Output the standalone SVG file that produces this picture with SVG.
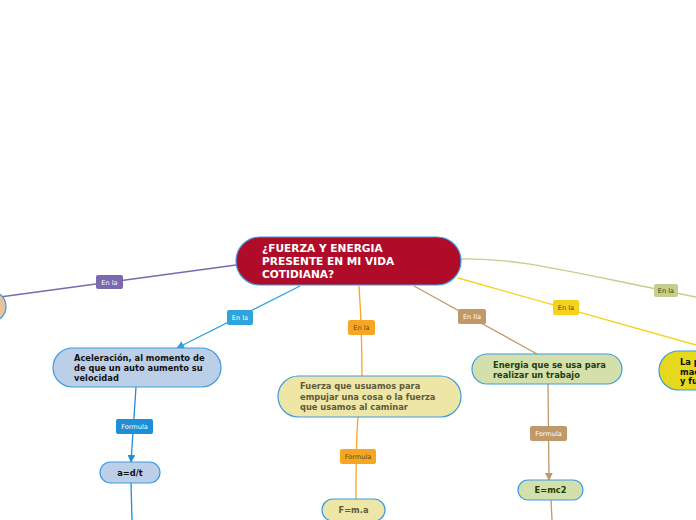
<svg xmlns="http://www.w3.org/2000/svg" width="696" height="520" viewBox="0 0 696 520">
<defs>
<style>
.n{stroke:#3d9be0;stroke-width:1.2}
.t{font-family:"DejaVu Sans",Verdana,sans-serif;font-weight:bold;font-size:8.3px}
.c{fill:none;stroke-width:1.3}
.lb{font-family:"DejaVu Sans",Verdana,sans-serif;font-size:6.6px;text-anchor:middle}
</style>
<marker id="ab" viewBox="0 0 10 10" refX="9" refY="5" markerWidth="6" markerHeight="6" orient="auto"><path d="M0,0 L10,5 L0,10 z" fill="#2ea3dc"/></marker>
<marker id="ab2" viewBox="0 0 10 10" refX="9" refY="5" markerWidth="6" markerHeight="6" orient="auto"><path d="M0,0 L10,5 L0,10 z" fill="#1e8fd6"/></marker>
<marker id="abr" viewBox="0 0 10 10" refX="9" refY="5" markerWidth="6" markerHeight="6" orient="auto"><path d="M0,0 L10,5 L0,10 z" fill="#c0996a"/></marker>
</defs>
<rect width="696" height="520" fill="#ffffff"/>
<g id="connectors">
<path class="c" d="M236,265 L0,297" stroke="#7b68ae"/>
<path class="c" d="M300,286 L177,348" stroke="#2ea3dc" marker-end="url(#ab)"/>
<path class="c" d="M136,387 L131,462" stroke="#1e8fd6" marker-end="url(#ab2)"/>
<path class="c" d="M131,483 L132,520" stroke="#1e8fd6"/>
<path class="c" d="M359,286 Q362,330 362,376" stroke="#f6a623"/>
<path class="c" d="M358,417 Q356,440 356,499" stroke="#f6a623"/>
<path class="c" d="M414,286 L537,354" stroke="#c0996a"/>
<path class="c" d="M548,384 L549,480" stroke="#c0996a" marker-end="url(#abr)"/>
<path class="c" d="M551,500 L552,520" stroke="#c0996a"/>
<path class="c" d="M458,278 L696,345" stroke="#f5d31a"/>
<path class="c" d="M461,259 C520,258 560,270 696,297" stroke="#c3cf8a"/>
<g id="labels">
<rect x="96" y="275" width="27" height="14" rx="2" fill="#7b68ae"/><text class="lb" x="109.5" y="284.5" fill="#ffffff">En la</text>
<rect x="227" y="310" width="26" height="15" rx="2" fill="#2ea3dc"/><text class="lb" x="240" y="320" fill="#ffffff">En la</text>
<rect x="116" y="419" width="37" height="15" rx="2" fill="#1e8fd6"/><text class="lb" x="134.5" y="429" fill="#ffffff">Formula</text>
<rect x="348" y="320" width="27" height="15" rx="2" fill="#f6a623"/><text class="lb" x="361.5" y="330" fill="#5e4a20">En la</text>
<rect x="340" y="449" width="36" height="15" rx="2" fill="#f6a623"/><text class="lb" x="358" y="459" fill="#5e4a20">Formula</text>
<rect x="458" y="309" width="28" height="15" rx="2" fill="#c0996a"/><text class="lb" x="472" y="319" fill="#ffffff">En lla</text>
<rect x="530" y="426" width="37" height="15" rx="2" fill="#c0996a"/><text class="lb" x="548.5" y="436" fill="#ffffff">Formula</text>
<rect x="553" y="300" width="26" height="15" rx="2" fill="#f5d31a"/><text class="lb" x="566" y="310" fill="#4a4020">En la</text>
<rect x="654" y="284" width="24" height="13" rx="2" fill="#c3cf8a"/><text class="lb" x="666" y="293" fill="#3a3a20">En la</text>
</g>
</g>
<g id="central">
<rect class="n" x="236" y="237" width="225" height="48" rx="24" fill="#b10b2a"/>
<text class="t" fill="#ffffff" style="font-size:10.6px"><tspan x="262" y="252">¿FUERZA Y ENERGIA</tspan><tspan x="262" y="265">PRESENTE EN MI VIDA</tspan><tspan x="262" y="278">COTIDIANA?</tspan></text>
</g>
<g id="left-node">
<rect class="n" x="-40" y="291" width="46" height="31" rx="15.5" fill="#e8c39e"/>
</g>
<g id="aceleracion">
<rect class="n" x="53" y="348" width="168" height="39" rx="19.5" fill="#bccfe8"/>
<text class="t" fill="#111111"><tspan x="74" y="361">Aceleración, al momento de</tspan><tspan x="74" y="371">de que un auto aumento su</tspan><tspan x="74" y="380.5">velocidad</tspan></text>
</g>
<g id="adt">
<rect class="n" x="100" y="462" width="60" height="21" rx="10.5" fill="#bccfe8"/>
<text class="t" x="130" y="475.5" text-anchor="middle" fill="#111111">a=d/t</text>
</g>
<g id="fuerza">
<rect class="n" x="278" y="376" width="183" height="41" rx="20.5" fill="#ede6a6"/>
<text class="t" fill="#5e5a3a"><tspan x="300" y="389">Fuerza que usuamos para</tspan><tspan x="300" y="399.5">empujar una cosa o la fuerza</tspan><tspan x="300" y="410">que usamos al caminar</tspan></text>
</g>
<g id="fma">
<rect class="n" x="322" y="499" width="63" height="22" rx="11" fill="#ede6a6"/>
<text class="t" x="353.5" y="513" text-anchor="middle" fill="#5e5a3a">F=m.a</text>
</g>
<g id="energia">
<rect class="n" x="472" y="354" width="150" height="30" rx="15" fill="#d4e0ab"/>
<text class="t" fill="#1f3d10"><tspan x="493" y="368">Energia que se usa para</tspan><tspan x="493" y="377.5">realizar un trabajo</tspan></text>
</g>
<g id="emc2">
<rect class="n" x="518" y="480" width="65" height="20" rx="10" fill="#d4e0ab"/>
<text class="t" x="550.5" y="493" text-anchor="middle" fill="#1f3d10">E=mc2</text>
</g>
<g id="la-p">
<rect class="n" x="659" y="351" width="90" height="39" rx="19.5" fill="#e6d81c"/>
<text class="t" fill="#111111"><tspan x="680" y="365">La p</tspan><tspan x="680" y="374.5">mac</tspan><tspan x="680" y="384">y fu</tspan></text>
</g>
</svg>
